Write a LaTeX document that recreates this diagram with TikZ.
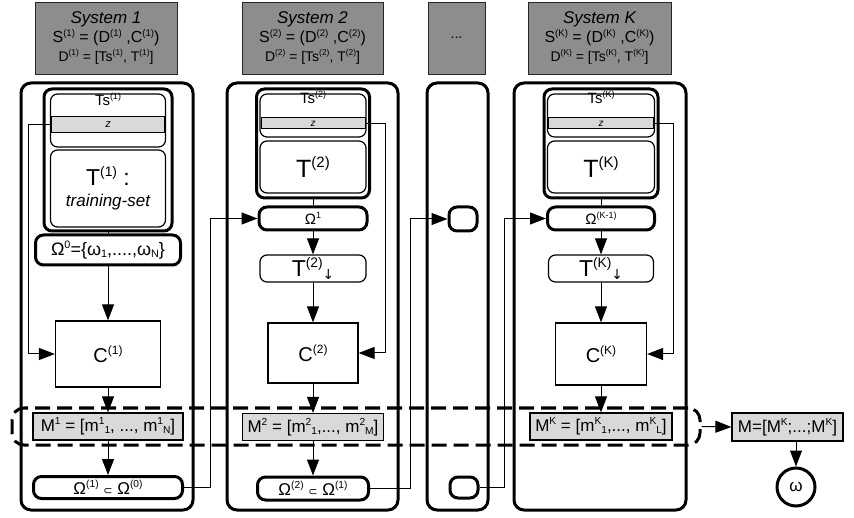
\documentclass[tikz,border=0pt]{standalone}
\usepackage{graphicx}
\usepackage{fontspec}
\setmainfont{Liberation Sans}
\newfontfamily\djvsym{DejaVu Sans}
\usetikzlibrary{arrows.meta,positioning}
\definecolor{hdrGray}{RGB}{141,141,141}
\definecolor{barGray}{RGB}{217,217,217}
\newcommand{\pxsize}[2]{\fontsize{#1}{#2}\selectfont}
\newcommand{\upx}[1]{\raisebox{0.4em}{\scalebox{0.6}{#1}}}
\newcommand{\dnx}[1]{\raisebox{-0.12em}{\scalebox{0.6}{#1}}}
\tikzset{
  hdr/.style={draw=black!85, line width=0.8pt, fill=hdrGray, inner sep=0pt, align=center, minimum height=72pt, font=\pxsize{14}{19}},
  sysbox/.style={draw, line width=3pt, rounded corners=10pt, inner sep=0pt},
  dbox/.style={draw, line width=3pt, rounded corners=8pt, inner sep=0pt},
  softbox/.style={draw, line width=1.2pt, rounded corners=7pt, inner sep=0pt, align=center},
  zbar/.style={draw, line width=1pt, fill=barGray, inner sep=0pt, font=\pxsize{11}{12}\itshape},
  tslbl/.style={inner sep=0pt, anchor=base, font=\pxsize{15}{17}},
  omegabox/.style={draw, line width=3pt, rounded corners=8pt, inner sep=0pt},
  clf/.style={draw, line width=1.2pt, inner sep=0pt, font=\pxsize{20}{22}},
  mbox/.style={draw, line width=1.2pt, fill=barGray, inner sep=0pt, font=\pxsize{17}{19}},
  band/.style={draw, line width=3pt, dash pattern=on 15pt off 7pt, rounded corners=12pt, inner sep=0pt},
  link/.style={line width=1pt, -{Triangle[length=16pt,width=12pt]}},
  wire/.style={line width=1pt}
}
\begin{document}
\begin{tikzpicture}[x=1pt, y=-1pt]
  \useasboundingbox (0,0) rectangle (854,518);
  % Headers
  \node[hdr, minimum width=142pt] (hdrA) at (106,38) {{\pxsize{17}{19}\itshape System 1}\\ {\pxsize{16}{19}S\upx{(1)} = (D\upx{(1)} ,C\upx{(1)})}\\ D\upx{(1)} = [Ts\upx{(1)}, T\upx{(1)}]};
  \node[hdr, minimum width=141pt] (hdrB) at (312.5,38) {{\pxsize{17}{19}\itshape System 2}\\ {\pxsize{16}{19}S\upx{(2)} = (D\upx{(2)} ,C\upx{(2)})}\\ D\upx{(2)} = [Ts\upx{(2)}, T\upx{(2)}]};
  \node[hdr, minimum width=57pt] (hdrD) at (456.5,38) {...};
  \node[hdr, minimum width=143pt] (hdrK) at (599.5,38) {{\pxsize{17}{19}\itshape System K}\\ {\pxsize{16}{19}S\upx{(K)} = (D\upx{(K)} ,C\upx{(K)})}\\ D\upx{(K)} = [Ts\upx{(K)}, T\upx{(K)}]};
  % System frames
  \node[sysbox, minimum width=172pt, minimum height=427pt] (sysA) at (107,296.5) {};
  \node[sysbox, minimum width=171pt, minimum height=427pt] (sysB) at (312.5,296.5) {};
  \node[sysbox, minimum width=61pt, minimum height=427pt] (sysD) at (457.5,296.5) {};
  \node[sysbox, minimum width=172pt, minimum height=427pt] (sysK) at (600,296.5) {};
  % Dashed band
  \node[band, minimum width=688pt, minimum height=37pt] (band) at (356,426.5) {};
  % System 1
  \node[dbox, minimum width=128pt, minimum height=142pt] (dA) at (108,160) {};
  \node[softbox, minimum width=115pt, minimum height=53pt] (tsA) at (108,120.5) {};
  \node[zbar, minimum width=113pt, minimum height=16pt] (zA) at (108,125) {z};
  \node[tslbl] (tslA) at (108,106) {Ts\upx{(1)}};
  \node[softbox, minimum width=115pt, minimum height=77pt, font=\pxsize{23}{21}] (tA) at (108,188.5) {T\upx{(1)} :\\ {\pxsize{17}{21}\itshape training-set}};
  \node[omegabox, minimum width=145pt, minimum height=30pt, font=\pxsize{18}{20}] (omA) at (108,250) {Ω\upx{0}=\{ω\dnx{1},....,ω\dnx{N}\}};
  \node[clf, minimum width=105pt, minimum height=66pt] (cA) at (108,354) {C\upx{(1)}};
  \node[mbox, minimum width=150pt, minimum height=27pt] (mA) at (108,426.5) {M\upx{1} = [m\upx{1}\dnx{1}, ..., m\upx{1}\dnx{N}]};
  \node[omegabox, minimum width=149pt, minimum height=22pt, font=\pxsize{17}{19}] (subA) at (108,487.5) {Ω\upx{(1)} {\djvsym\pxsize{11}{13}⊂} Ω\upx{(0)}};
  \draw[wire] (dA.south) -- (omA.north);
  \draw[link] (omA.south) -- (cA.north);
  \draw[link] (zA.west) -- ++(-23,0) |- (cA.west);
  \draw[link] (cA.south) -- (mA.north);
  \draw[link] (mA.south) -- (subA.north);
  % System 2
  \node[dbox, minimum width=113pt, minimum height=109pt] (dB) at (313,143.5) {};
  \node[softbox, minimum width=106pt, minimum height=43pt] (tsB) at (313,115.5) {};
  \node[zbar, minimum width=104pt, minimum height=11pt, font=\pxsize{10}{11}\itshape] (zB) at (313,123.5) {z};
  \node[tslbl] (tslB) at (313,104) {Ts\upx{(2)}};
  \node[softbox, minimum width=106pt, minimum height=52pt, font=\pxsize{25}{26}] (tB) at (313,167) {T\upx{(2)}};
  \node[omegabox, minimum width=108pt, minimum height=23pt, font=\pxsize{15}{15}] (omB) at (313,218.5) {Ω\upx{1}};
  \node[softbox, minimum width=106pt, minimum height=27pt, font=\pxsize{23}{24}] (tdB) at (313,268.5) {T\upx{(2)}\dnx{\djvsym↓}};
  \node[clf, minimum width=90pt, minimum height=60pt] (cB) at (313,353) {C\upx{(2)}};
  \node[mbox, minimum width=141pt, minimum height=27pt] (mB) at (313,427) {M\upx{2} = [m\upx{2}\dnx{1},..., m\upx{2}\dnx{M}]};
  \node[omegabox, minimum width=111pt, minimum height=23pt, font=\pxsize{17}{19}] (subB) at (313,488.5) {Ω\upx{(2)} {\djvsym\pxsize{11}{13}⊂} Ω\upx{(1)}};
  \draw[link] (subA.east) -- ++(26,0) |- (omB.west);
  \draw[wire] (dB.south) -- (omB.north);
  \draw[link] (omB.south) -- (tdB.north);
  \draw[link] (tdB.south) -- (cB.north);
  \draw[link] (zB.east) -- ++(20,0) |- (cB.east);
  \draw[link] (cB.south) -- (mB.north);
  \draw[link] (mB.south) -- (subB.north);
  % Intermediate systems
  \node[omegabox, minimum width=28pt, minimum height=24pt] (omD) at (463,219) {};
  \node[omegabox, minimum width=28pt, minimum height=21pt] (subD) at (464,487.5) {};
  \draw[link] (subB.east) -- ++(40,0) |- (omD.west);
  % System K
  \node[dbox, minimum width=114pt, minimum height=109pt] (dK) at (601,143.5) {};
  \node[softbox, minimum width=107pt, minimum height=43pt] (tsK) at (601,115.5) {};
  \node[zbar, minimum width=105pt, minimum height=11pt, font=\pxsize{10}{11}\itshape] (zK) at (601,123.5) {z};
  \node[tslbl] (tslK) at (601,104) {Ts\upx{(K)}};
  \node[softbox, minimum width=107pt, minimum height=52pt, font=\pxsize{25}{26}] (tK) at (601,167) {T\upx{(K)}};
  \node[omegabox, minimum width=107pt, minimum height=23pt, font=\pxsize{15}{15}] (omK) at (601,218.5) {Ω\upx{(K-1)}};
  \node[softbox, minimum width=105pt, minimum height=27pt, font=\pxsize{23}{24}] (tdK) at (601,268.5) {T\upx{(K)}\dnx{\djvsym↓}};
  \node[clf, minimum width=91pt, minimum height=62pt] (cK) at (601,354) {C\upx{(K)}};
  \node[mbox, minimum width=142pt, minimum height=27pt] (mK) at (601,426.5) {M\upx{K} = [m\upx{K}\dnx{1},..., m\upx{K}\dnx{L}]};
  \draw[link] (subD.east) -- ++(25,0) |- (omK.west);
  \draw[wire] (dK.south) -- (omK.north);
  \draw[link] (omK.south) -- (tdK.north);
  \draw[link] (tdK.south) -- (cK.north);
  \draw[link] (zK.east) -- ++(19,0) |- (cK.east);
  \draw[link] (cK.south) -- (mK.north);
  % Combined output
  \node[mbox, minimum width=111pt, minimum height=28pt] (mAll) at (787.5,427) {M=[M\upx{K};...;M\upx{K}]};
  \node[draw, circle, line width=3pt, minimum size=38pt, inner sep=0pt, font=\pxsize{17}{19}] (omega) at (796,487) {ω};
  \draw[link] (band.east) -- (mAll.west);
  \draw[link] (mAll.south -| omega.north) -- (omega.north);
\end{tikzpicture}
\end{document}
